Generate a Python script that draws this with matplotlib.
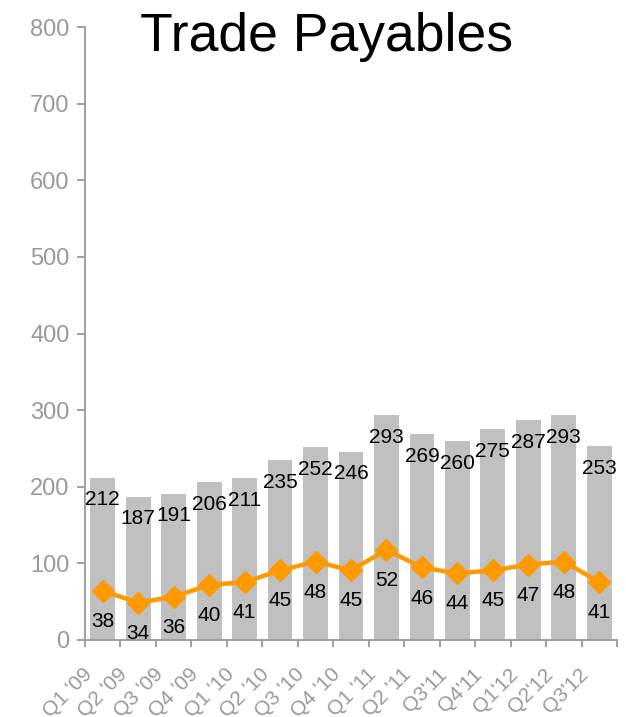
import matplotlib.pyplot as plt
import matplotlib.transforms as mtransforms
import numpy as np

plt.rcParams['font.family'] = ['Liberation Sans', 'DejaVu Sans']

# data
quarters = ["Q1 '09", "Q2 '09", "Q3 '09", "Q4 '09", "Q1 '10", "Q2 '10", "Q3 '10",
            "Q4 '10", "Q1 '11", "Q2 '11", "Q3'11", "Q4'11", "Q1'12", "Q2'12", "Q3'12"]
payables = [212, 187, 191, 206, 211, 235, 252, 246, 293, 269, 260, 275, 287, 293, 253]
days = [38, 34, 36, 40, 41, 45, 48, 45, 52, 46, 44, 45, 47, 48, 41]

grey = '#999999'
x = np.arange(len(quarters))

fig = plt.figure(figsize=(6.26, 7.17), dpi=100)
ax = fig.add_axes([0.1358, 0.1074, 0.8498, 0.8549])

ax.bar(x, payables, width=0.7, color='#C0C0C0', zorder=2)
ax.set_xlim(-0.5, len(quarters) - 0.5)
ax.set_ylim(0, 800)
ax.set_yticks(range(0, 801, 100))

for s in ['top', 'right']:
    ax.spines[s].set_visible(False)
for s in ['left', 'bottom']:
    ax.spines[s].set_color(grey)
    ax.spines[s].set_linewidth(1.3)

ax.tick_params(axis='y', colors=grey, labelsize=17, length=6, width=1.3, pad=5)
ax.set_xticks(x)
ax.set_xticks(np.arange(-0.5, len(quarters)), minor=True)
ax.tick_params(axis='x', which='major', length=0, pad=18)
ax.tick_params(axis='x', which='minor', length=5, width=1.3, color=grey)
shift = mtransforms.ScaledTranslation(-7 / 100, 0, fig.dpi_scale_trans)
ax.set_xticklabels(quarters, rotation=45, ha='right', va='top', color=grey, fontsize=15)
for lab in ax.get_xticklabels():
    lab.set_transform(lab.get_transform() + shift)

for xi, v in zip(x, payables):
    ax.annotate(str(v), (xi, v), xytext=(0, -16), textcoords='offset points',
                ha='center', va='center', fontsize=15, color='black', zorder=3)

# line on hidden secondary axis
ax2 = ax.twinx()
ax2.set_ylim(21.28, 230.2)
ax2.axis('off')
ax2.plot(x, days, color='#FF9900', lw=3.2, marker='D', markersize=11.5, zorder=4)
for xi, v in zip(x, days):
    ax2.annotate(str(v), (xi, v), xytext=(0, -22), textcoords='offset points',
                 ha='center', va='center', fontsize=15, color='black')

fig.text(0.521, 0.949, 'Trade Payables', ha='center', va='center', fontsize=38.5, color='black')

fig.savefig('out.png', dpi=100)
